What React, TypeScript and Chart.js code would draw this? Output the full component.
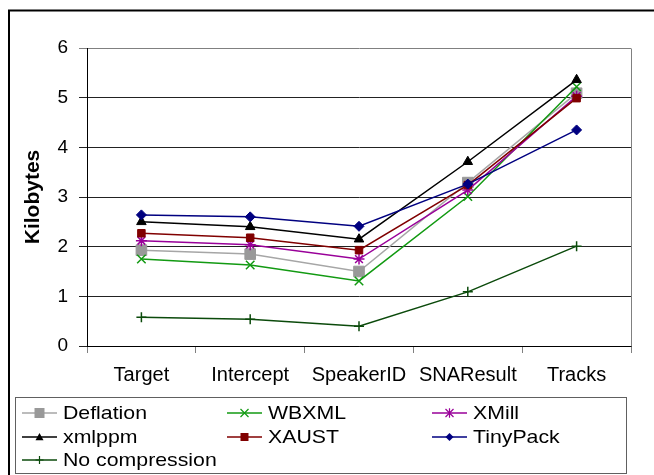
import React, { useEffect, useRef } from 'react';
import { Chart, registerables } from 'chart.js';

Chart.register(...registerables);

const categories = ['Target', 'Intercept', 'SpeakerID', 'SNAResult', 'Tracks'];
const deflation = [1.93, 1.85, 1.5, 3.29, 5.09];
const wbxml = [1.75, 1.63, 1.31, 3.01, 5.22];
const xmill = [2.12, 2.04, 1.75, 3.14, 5.03];
const xmlppm = [2.5, 2.4, 2.15, 3.71, 5.36];
const xaust = [2.27, 2.18, 1.93, 3.24, 4.99];
const tinypack = [2.64, 2.6, 2.41, 3.26, 4.35];
const noCompression = [0.58, 0.54, 0.4, 1.09, 2.01];
const seriesNames = ['Deflation', 'WBXML', 'XMill', 'xmlppm', 'XAUST', 'TinyPack', 'No compression'];
const yMin = 0;
const yMax = 6;
const yStep = 1;
const yTitle = 'Kilobytes';

const FONT = "'Liberation Sans', Arial, sans-serif";

const seriesValues = [deflation, wbxml, xmill, xmlppm, xaust, tinypack, noCompression];
const styles = [
  { line: '#a6a6a6', style: 'rect', r: 7.5, fill: '#999999', stroke: '#999999', bw: 1 },
  { line: '#129a12', style: 'crossRot', r: 6, fill: '#129a12', stroke: '#129a12', bw: 1.5 },
  { line: '#990099', style: 'star', r: 5.5, fill: '#990099', stroke: '#990099', bw: 1.5 },
  { line: '#000000', style: 'triangle', r: 5.5, fill: '#000000', stroke: '#000000', bw: 1 },
  { line: '#800000', style: 'rect', r: 5.3, fill: '#800000', stroke: '#800000', bw: 1 },
  { line: '#000080', style: 'rectRot', r: 5, fill: '#000080', stroke: '#000080', bw: 1 },
  { line: '#0b4a0b', style: 'cross', r: 5, fill: '#0b4a0b', stroke: '#0b4a0b', bw: 1.5 },
];

function drawMarker(ctx: CanvasRenderingContext2D, kind: string, x: number, y: number, s: number, fill: string, stroke: string, bw: number) {
  ctx.save();
  ctx.fillStyle = fill;
  ctx.strokeStyle = stroke;
  ctx.lineWidth = bw;
  ctx.beginPath();
  if (kind === 'rect') {
    ctx.rect(x - s, y - s, 2 * s, 2 * s);
    ctx.fill();
  } else if (kind === 'triangle') {
    ctx.moveTo(x, y - s);
    ctx.lineTo(x + s, y + s * 0.8);
    ctx.lineTo(x - s, y + s * 0.8);
    ctx.closePath();
    ctx.fill();
  } else if (kind === 'rectRot') {
    ctx.moveTo(x, y - s);
    ctx.lineTo(x + s, y);
    ctx.lineTo(x, y + s);
    ctx.lineTo(x - s, y);
    ctx.closePath();
    ctx.fill();
  } else if (kind === 'crossRot') {
    ctx.moveTo(x - s, y - s);
    ctx.lineTo(x + s, y + s);
    ctx.moveTo(x + s, y - s);
    ctx.lineTo(x - s, y + s);
    ctx.stroke();
  } else if (kind === 'star') {
    ctx.moveTo(x - s, y - s);
    ctx.lineTo(x + s, y + s);
    ctx.moveTo(x + s, y - s);
    ctx.lineTo(x - s, y + s);
    ctx.moveTo(x, y - s * 1.2);
    ctx.lineTo(x, y + s * 1.2);
    ctx.stroke();
  } else if (kind === 'cross') {
    ctx.moveTo(x - s, y);
    ctx.lineTo(x + s, y);
    ctx.moveTo(x, y - s);
    ctx.lineTo(x, y + s);
    ctx.stroke();
  }
  ctx.restore();
}

const framePlugin = {
  id: 'frame',
  beforeDraw(chart: any) {
    const ctx = chart.ctx as CanvasRenderingContext2D;
    ctx.save();
    ctx.fillStyle = '#ffffff';
    ctx.fillRect(0, 0, chart.width, chart.height);
    ctx.strokeStyle = '#000000';
    ctx.lineWidth = 2;
    ctx.strokeRect(9, 10.5, 800, 700);
    ctx.restore();
  },
  beforeDatasetsDraw(chart: any) {
    const ctx = chart.ctx as CanvasRenderingContext2D;
    const a = chart.chartArea;
    ctx.save();
    ctx.strokeStyle = '#808080';
    ctx.lineWidth = 1;
    ctx.beginPath();
    const rx = Math.round(a.right) + 0.5;
    ctx.moveTo(rx, Math.round(a.top) + 0.5);
    ctx.lineTo(rx, Math.round(a.bottom) + 0.5);
    ctx.stroke();
    ctx.restore();
  },
  afterDraw(chart: any) {
    const ctx = chart.ctx as CanvasRenderingContext2D;
    ctx.save();
    ctx.fillStyle = '#ffffff';
    ctx.fillRect(15, 397, 612, 77);
    ctx.strokeStyle = '#606060';
    ctx.lineWidth = 1;
    ctx.strokeRect(15.5, 397.5, 611, 76);
    const cols = [22, 227, 432];
    const rows = [413, 437, 460];
    chart.data.datasets.forEach((ds: any, i: number) => {
      const st = styles[i];
      const x = cols[i % 3];
      const y = rows[Math.floor(i / 3)];
      ctx.strokeStyle = st.line;
      ctx.lineWidth = 1.5;
      ctx.beginPath();
      ctx.moveTo(x, y);
      ctx.lineTo(x + 35, y);
      ctx.stroke();
      const ms = st.style === 'rect' ? (i === 0 ? 5 : 4) : 4;
      drawMarker(ctx, st.style, x + 17.5, y, ms, st.fill, st.stroke, 1.2);
      ctx.save();
      ctx.translate(x + 41, y + 1);
      ctx.scale(1.15, 1);
      ctx.fillStyle = '#000000';
      ctx.font = `18.5px ${FONT}`;
      ctx.textBaseline = 'middle';
      ctx.textAlign = 'left';
      ctx.fillText(ds.label, 0, 0);
      ctx.restore();
    });
    ctx.restore();
  },
};

export default function App() {
  const ref = useRef<HTMLCanvasElement | null>(null);
  useEffect(() => {
    if (!ref.current) return;
    const datasets = seriesValues.map((vals, i) => ({
      label: seriesNames[i],
      data: vals,
      borderColor: styles[i].line,
      backgroundColor: styles[i].fill,
      borderWidth: 1.5,
      pointStyle: styles[i].style as any,
      pointRadius: styles[i].r,
      pointBackgroundColor: styles[i].fill,
      pointBorderColor: styles[i].stroke,
      pointBorderWidth: styles[i].bw,
      tension: 0,
      order: 20 - i,
    }));
    const chart = new Chart(ref.current, {
      type: 'line',
      data: { labels: categories, datasets },
      plugins: [framePlugin as any],
      options: {
        animation: false,
        responsive: false,
        devicePixelRatio: 1,
        layout: { padding: { left: 9, right: 23, top: 48, bottom: 89 } },
        plugins: { legend: { display: false }, tooltip: { enabled: false } },
        scales: {
          x: {
            offset: true,
            grid: { offset: true, drawOnChartArea: false, drawTicks: true, tickLength: 7, color: '#808080' },
            border: { display: true, color: '#000000', width: 1 },
            ticks: { color: '#000000', font: { family: FONT, size: 20 }, padding: 10, maxRotation: 0, autoSkip: false },
            afterFit: (s: any) => { s.height = 40; },
          },
          y: {
            min: yMin,
            max: yMax,
            ticks: { stepSize: yStep, color: '#000000', font: { family: FONT, size: 19 }, padding: 11 },
            grid: {
              color: (c: any) => (c.tick && c.tick.value === yMax ? '#808080' : '#222222'),
              lineWidth: 1,
              tickLength: 8,
              drawTicks: true,
            },
            border: { display: true, color: '#000000', width: 1 },
            title: { display: true, text: yTitle, color: '#000000', font: { family: FONT, size: 21, weight: 'bold' }, padding: { top: 12, bottom: 0 } },
            afterFit: (s: any) => { s.width = 78; },
          },
        },
      },
    });
    return () => chart.destroy();
  }, []);
  return (
    <div style={{ position: 'fixed', left: 0, top: 0, width: 654, height: 475 }}>
      <canvas ref={ref} width={654} height={475} style={{ display: 'block', width: 654, height: 475 }} />
    </div>
  );
}
